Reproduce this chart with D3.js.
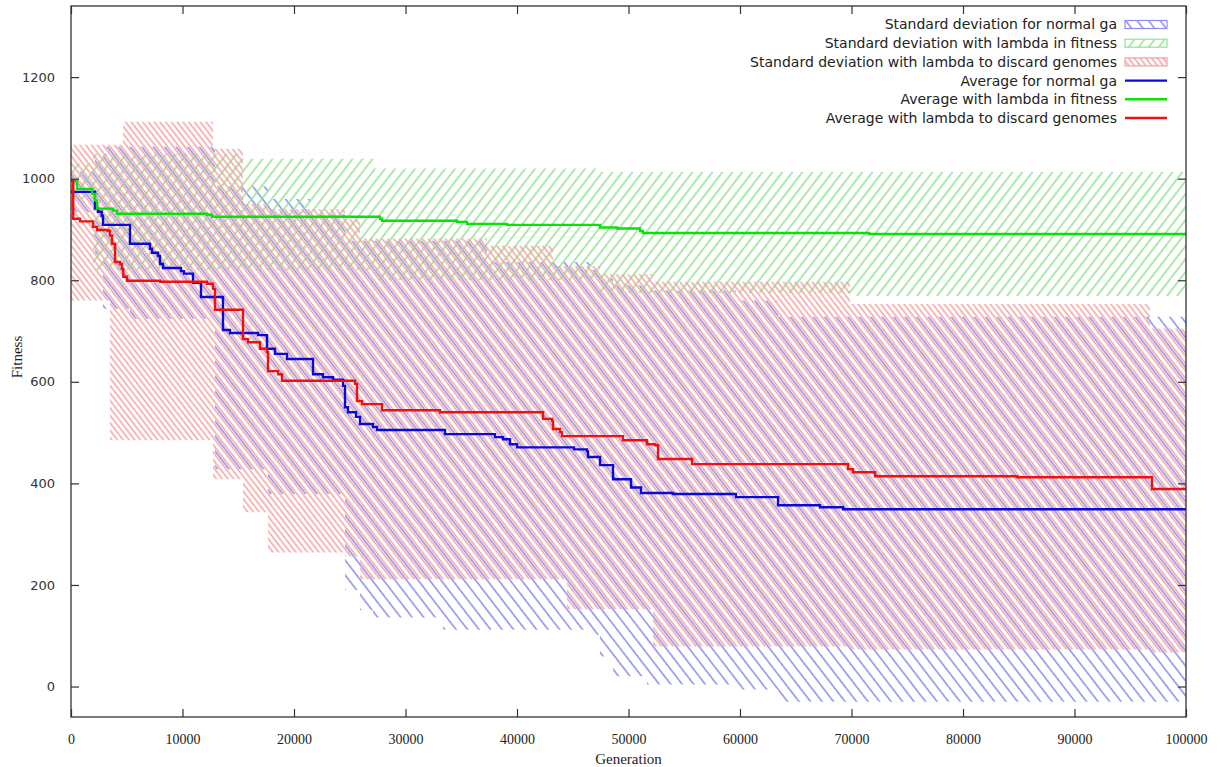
<!DOCTYPE html>
<html>
<head>
<meta charset="utf-8">
<script src="https://cdn.jsdelivr.net/npm/d3@7"></script>
<style>
  html, body { margin: 0; padding: 0; background: #fff; }
  svg { display: block; }
</style>
</head>
<body>
<svg id="chart" width="1225" height="767"></svg>
<script>
// Average fitness per generation: [generation, fitness]
const avgNormal = [
  [0, 974], [2153, 941], [2422, 935], [2753, 927], [2870, 909], [5292, 872],
  [7085, 862], [7265, 854], [7803, 848], [7982, 832], [8251, 824], [9865, 818],
  [10135, 813], [10942, 795], [11659, 767], [13632, 702], [14261, 696], [16772, 692],
  [17579, 665], [18296, 655], [19372, 645], [21705, 615], [22601, 609], [23498, 604],
  [24395, 592], [24574, 550], [24843, 540], [25562, 531], [25920, 517], [27086, 511],
  [27445, 505], [33544, 497], [38028, 491], [38745, 487], [39374, 477], [40002, 471],
  [45114, 467], [46280, 463], [46370, 452], [47446, 436], [48612, 408], [50226, 392],
  [51123, 381], [53993, 379], [59644, 373], [63411, 357], [67178, 353], [69241, 349],
  [100000, 349]
];
const avgFitness = [
  [0, 996], [538, 980], [1883, 970], [2153, 957], [2332, 941], [3767, 937],
  [4126, 931], [12198, 929], [12646, 925], [27714, 921], [27894, 917], [34620, 915],
  [35517, 911], [39104, 909], [47446, 904], [48970, 902], [51033, 897], [51302, 893],
  [71573, 891], [100000, 891]
];
const avgDiscard = [
  [0, 996], [200, 921], [807, 916], [1973, 905], [2332, 899], [3319, 897],
  [3498, 888], [3677, 872], [3946, 836], [4395, 832], [4574, 822], [4691, 807],
  [5023, 799], [8000, 797], [12198, 793], [12736, 783], [12915, 742], [15427, 684],
  [15875, 678], [16951, 665], [17579, 659], [17669, 621], [18566, 615], [18925, 602],
  [25472, 596], [25651, 562], [26100, 556], [27894, 544], [33096, 540], [42334, 527],
  [43141, 523], [43231, 507], [43859, 501], [44038, 493], [49509, 485], [51661, 477],
  [52379, 475], [52648, 448], [55697, 438], [69689, 428], [70138, 422], [72111, 414],
  [84847, 412], [96952, 389], [100000, 389]
];

// Standard deviation bands: [generation, lower, upper]
const sdNormal = [
  [0, 934, 1014], [2152, 850, 1040], [2870, 744, 1063], [5291, 724, 1063],
  [12915, 428, 985], [17668, 379, 960], [21435, 379, 930],
  [24574, 190, 878], [25919, 150, 878], [27085, 136, 878], [33363, 112, 878],
  [37309, 112, 836], [46547, 102, 820], [47444, 59, 803], [48610, 20, 790],
  [51659, 4, 780], [59641, -6, 760], [63408, -30, 728], [100000, -30, 728]
];
const sdFitness = [
  [0, 960, 1030], [1973, 820, 1049], [15157, 820, 1039], [27264, 800, 1020],
  [47444, 775, 1013], [69865, 769, 1013], [100000, 769, 1013]
];
const sdDiscard = [
  [0, 760, 1067], [3498, 485, 1067], [4664, 485, 1112], [12735, 408, 1059],
  [15426, 343, 950], [17668, 264, 940], [24574, 256, 920], [25919, 211, 882],
  [37309, 211, 868], [43229, 211, 828], [44484, 152, 828], [47444, 152, 812],
  [52197, 79, 797], [69865, 73, 753], [96771, 67, 705], [100000, 67, 705]
];

const xTicks = [0, 10000, 20000, 30000, 40000, 50000, 60000, 70000, 80000, 90000, 100000];
const yTicks = [0, 200, 400, 600, 800, 1000, 1200];

const legendLabels = [
  "Standard deviation for normal ga",
  "Standard deviation with lambda in fitness",
  "Standard deviation with lambda to discard genomes",
  "Average for normal ga",
  "Average with lambda in fitness",
  "Average with lambda to discard genomes"
];

(function draw() {
  const svg = d3.select("#chart");
  const pl = 71, pr = 1186, pt = 6, pb = 717;

  const x = d3.scaleLinear().domain([0, 100000]).range([pl, pr]);
  const y = d3.scaleLinear().domain([-60, 1340]).range([pb, pt]);

  // hatch patterns: id, colour, horizontal period, direction
  const hatches = [
    { id: "hatchBlue", color: "#8c8cf0", period: 11.5, dir: -1 },
    { id: "hatchGreen", color: "#8ee48e", period: 10, dir: 1 },
    { id: "hatchRed", color: "#f2a0a0", period: 5.75, dir: -1 }
  ];
  const angle = 37.6; // rotation of the stroke away from vertical
  const defs = svg.append("defs");
  hatches.forEach(h => {
    const spacing = h.period * Math.cos(angle * Math.PI / 180);
    const p = defs.append("pattern")
      .attr("id", h.id)
      .attr("patternUnits", "userSpaceOnUse")
      .attr("width", spacing)
      .attr("height", 20)
      .attr("patternTransform", `rotate(${h.dir * angle})`);
    p.append("line")
      .attr("x1", spacing / 2).attr("y1", 0)
      .attr("x2", spacing / 2).attr("y2", 20)
      .attr("stroke", h.color)
      .attr("stroke-width", 1.5);
  });

  defs.append("clipPath").attr("id", "plotClip")
    .append("rect").attr("x", pl).attr("y", pt)
    .attr("width", pr - pl).attr("height", pb - pt);

  const plot = svg.append("g").attr("clip-path", "url(#plotClip)");

  const band = d3.area()
    .x(d => x(d[0]))
    .y0(d => y(d[1]))
    .y1(d => y(d[2]))
    .curve(d3.curveStepAfter);

  const line = d3.line()
    .x(d => x(d[0]))
    .y(d => y(d[1]))
    .curve(d3.curveStepAfter);

  const bands = [
    { data: sdNormal, fill: "url(#hatchBlue)" },
    { data: sdFitness, fill: "url(#hatchGreen)" },
    { data: sdDiscard, fill: "url(#hatchRed)" }
  ];
  bands.forEach(b => {
    plot.append("path").datum(b.data).attr("d", band).attr("fill", b.fill);
  });

  const lines = [
    { data: avgNormal, color: "#0a0ad8" },
    { data: avgFitness, color: "#0ae00a" },
    { data: avgDiscard, color: "#f01010" }
  ];
  lines.forEach(l => {
    plot.append("path").datum(l.data).attr("d", line)
      .attr("fill", "none").attr("stroke", l.color)
      .attr("stroke-width", 2.4).attr("stroke-linejoin", "miter");
  });

  // axes with inward ticks, mirrored on the top and right
  const axisColor = "#333";
  const gx = svg.append("g").attr("transform", `translate(0,${pb})`)
    .call(d3.axisBottom(x).tickValues(xTicks).tickFormat(d3.format("d"))
      .tickSize(-8).tickPadding(17));
  const gxTop = svg.append("g").attr("transform", `translate(0,${pt})`)
    .call(d3.axisTop(x).tickValues(xTicks).tickFormat("").tickSize(-8));
  const gy = svg.append("g").attr("transform", `translate(${pl},0)`)
    .call(d3.axisLeft(y).tickValues(yTicks).tickFormat(d3.format("d"))
      .tickSize(-8).tickPadding(16));
  const gyRight = svg.append("g").attr("transform", `translate(${pr},0)`)
    .call(d3.axisRight(y).tickValues(yTicks).tickFormat("").tickSize(-8));

  [gx, gxTop, gy, gyRight].forEach(g => {
    g.select(".domain").remove();
    g.selectAll(".tick line").attr("stroke", axisColor).attr("stroke-width", 1.2);
  });
  gx.selectAll(".tick text")
    .attr("font-family", "'Liberation Serif', serif")
    .attr("font-size", 14).attr("fill", "#222");
  gy.selectAll(".tick text")
    .attr("font-family", "'DejaVu Sans', sans-serif")
    .attr("font-size", 13).attr("fill", "#333");

  svg.append("rect")
    .attr("x", pl).attr("y", pt)
    .attr("width", pr - pl).attr("height", pb - pt)
    .attr("fill", "none").attr("stroke", axisColor).attr("stroke-width", 1.3);

  svg.append("text")
    .attr("x", (pl + pr) / 2).attr("y", 764)
    .attr("text-anchor", "middle")
    .attr("font-family", "'Liberation Serif', serif").attr("font-size", 15)
    .attr("fill", "#222")
    .text("Generation");

  svg.append("text")
    .attr("transform", "translate(22,357) rotate(-90)")
    .attr("text-anchor", "middle")
    .attr("font-family", "'Liberation Serif', serif").attr("font-size", 15)
    .attr("fill", "#222")
    .text("Fitness");

  // legend
  const legendStyle = [
    { kind: "band", fill: "url(#hatchBlue)", color: "#8c8cf0" },
    { kind: "band", fill: "url(#hatchGreen)", color: "#8ee48e" },
    { kind: "band", fill: "url(#hatchRed)", color: "#f2a0a0" },
    { kind: "line", color: "#0a0ad8" },
    { kind: "line", color: "#0ae00a" },
    { kind: "line", color: "#f01010" }
  ];
  const legend = svg.append("g");
  legendLabels.forEach((label, i) => {
    const cy = 24.5 + i * 18.7;
    legend.append("text")
      .attr("x", 1117).attr("y", cy).attr("dy", "0.35em")
      .attr("text-anchor", "end")
      .attr("font-family", "'DejaVu Sans', sans-serif").attr("font-size", 14)
      .attr("fill", "#222")
      .text(label);
    const s = legendStyle[i];
    if (s.kind === "band") {
      legend.append("rect")
        .attr("x", 1125).attr("y", cy - 4).attr("width", 42).attr("height", 8)
        .attr("fill", s.fill).attr("stroke", s.color).attr("stroke-width", 1.2);
    } else {
      legend.append("line")
        .attr("x1", 1125).attr("x2", 1167).attr("y1", cy).attr("y2", cy)
        .attr("stroke", s.color).attr("stroke-width", 2.4);
    }
  });
})();
</script>
</body>
</html>
